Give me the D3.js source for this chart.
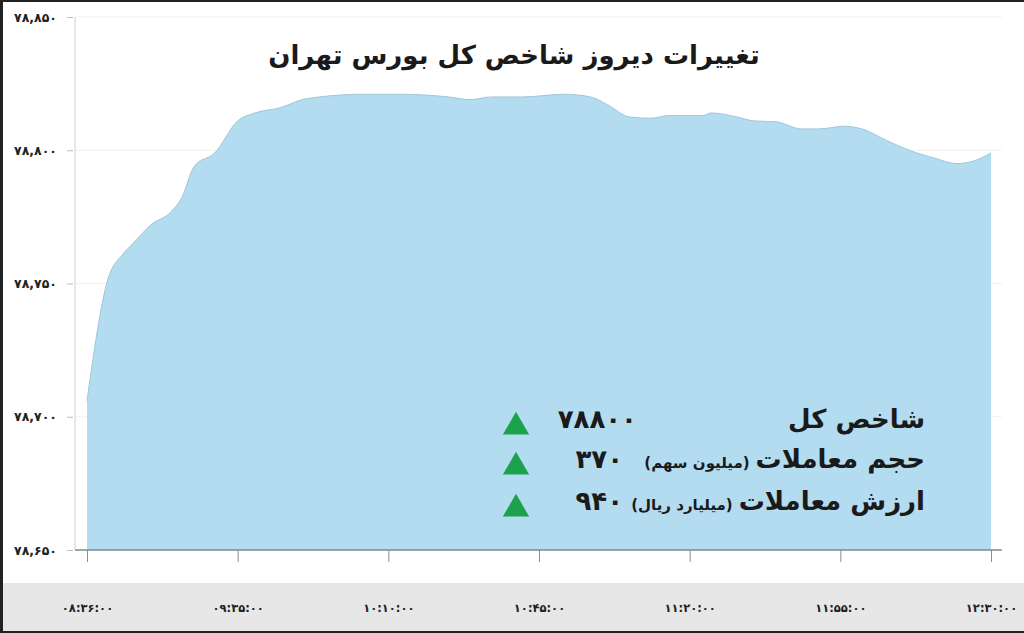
<!DOCTYPE html>
<html>
<head>
<meta charset="utf-8">
<script src="https://cdn.jsdelivr.net/npm/d3@7"></script>
<style>
  html, body { margin: 0; padding: 0; background: #fff; }
  svg { display: block; }
  text { font-family: "DejaVu Sans", "Noto Sans", sans-serif; }
</style>
</head>
<body>
<svg id="chart" width="1024" height="633"></svg>
<script>
// ---------- data ----------
const times = ["08:36","08:44","08:50","08:54","09:01","09:09","09:13","09:18","09:26","09:35",
  "09:39","09:45","09:50","09:54","10:04","10:13","10:24","10:29","10:34","10:41",
  "10:51","10:57","11:01","11:06","11:11","11:15","11:23","11:25","11:31","11:35",
  "11:40","11:46","11:50","11:56","12:00","12:06","12:11","12:17","12:22","12:26","12:30"];
const values = [78706,78751,78761,78765,78772,78777,78782,78794,78799,78811,
  78814,78816,78819,78820,78821,78821,78820,78819,78820,78820,
  78821,78820,78817,78812.5,78812,78813,78813,78814,78812.5,78811,
  78810.7,78808,78808,78809,78808,78803.5,78800,78797,78795,78796,78799];
const xTickTimes = ["08:36","09:35","10:10","10:45","11:20","11:55","12:30"];
const yTickValues = [78650,78700,78750,78800,78850];
const title = "تغییرات دیروز شاخص کل بورس تهران";
const legendLabels = ["شاخص کل","حجم معاملات","ارزش معاملات"];
const legendUnits = ["","(میلیون سهم)","(میلیارد ریال)"];
const legendValues = [78800,370,940];

// ---------- helpers ----------
const faDigits = "۰۱۲۳۴۵۶۷۸۹";
const toFa = s => String(s).replace(/[0-9]/g, d => faDigits[+d]);
const toMin = t => { const [h,m] = t.split(":").map(Number); return h*60+m; };

const svg = d3.select("#chart");
const W = 1024, H = 633;
const plot = {left: 75, right: 1002, top: 17, bottom: 550, x0: 87, x1: 991};

// background band for x labels
svg.append("rect").attr("x",0).attr("y",583).attr("width",W).attr("height",H-583).attr("fill","#e7e7e7");

// scales (piecewise linear across the equally spaced tick times)
const tickMins = xTickTimes.map(toMin);
const x = d3.scaleLinear()
  .domain(tickMins)
  .range(tickMins.map((d,i) => plot.x0 + i*(plot.x1-plot.x0)/(tickMins.length-1)));
const y = d3.scaleLinear().domain([78650,78850]).range([plot.bottom, plot.top]);

// grid
svg.append("g").selectAll("line").data(yTickValues).join("line")
  .attr("x1",plot.left).attr("x2",plot.right)
  .attr("y1",d=>y(d)).attr("y2",d=>y(d))
  .attr("stroke","#eef1f3").attr("stroke-width",1);

// area
const data = times.map((t,i)=>({t:toMin(t), v:values[i]}));
const area = d3.area().x(d=>x(d.t)).y0(y(78650)).y1(d=>y(d.v)).curve(d3.curveMonotoneX);
const line = d3.line().x(d=>x(d.t)).y(d=>y(d.v)).curve(d3.curveMonotoneX);
svg.append("path").datum(data).attr("d",area).attr("fill","#b4dcf0");
svg.append("path").datum(data).attr("d",line).attr("fill","none").attr("stroke","#9fc7da").attr("stroke-width",1);

// y axis
const yAxis = d3.axisLeft(y).tickValues(yTickValues).tickSize(6).tickPadding(10)
  .tickFormat(d => toFa(d3.format(",")(d)));
const gy = svg.append("g").attr("transform",`translate(${plot.left-2},0)`).call(yAxis);
gy.select(".domain").remove();
gy.selectAll(".tick line").attr("stroke","#bbb");
gy.selectAll(".tick text").attr("fill","#222").attr("font-size",12.5).attr("font-weight","bold");
svg.append("line").attr("x1",plot.left).attr("x2",plot.left).attr("y1",plot.top).attr("y2",plot.bottom)
  .attr("stroke","#d0d0d0").attr("stroke-width",1);

// x axis
const xAxis = d3.axisBottom(x).tickValues(tickMins).tickSize(12).tickPadding(42)
  .tickFormat(d => toFa(xTickTimes[tickMins.indexOf(d)] + ":00"));
const gx = svg.append("g").attr("transform",`translate(0,${plot.bottom})`).call(xAxis);
gx.select(".domain").remove();
gx.selectAll(".tick line").attr("stroke","#8a8f93");
gx.selectAll(".tick text").attr("fill","#222").attr("font-size",11.5).attr("font-weight","bold");
svg.append("line").attr("x1",plot.left).attr("x2",plot.right).attr("y1",plot.bottom).attr("y2",plot.bottom)
  .attr("stroke","#7f8b92").attr("stroke-width",1.5);

// title
svg.append("text").attr("x",514).attr("y",64).attr("text-anchor","middle")
  .attr("font-size",26).attr("font-weight","bold").attr("fill","#1a1a1a").text(title);

// legend
const rowY = [428, 468, 510];
legendLabels.forEach((lab,i)=>{
  const t = svg.append("text").attr("x",925).attr("y",rowY[i]).attr("text-anchor","end")
    .attr("font-size",26).attr("font-weight","bold").attr("fill","#1a1a1a").text(lab);
  if (legendUnits[i]) {
    const w = t.node().getComputedTextLength();
    svg.append("text").attr("x",925-w-6).attr("y",rowY[i]).attr("text-anchor","end")
      .attr("font-size",15).attr("font-weight","bold").attr("fill","#1a1a1a").text(legendUnits[i]);
  }
  svg.append("text").attr("x",i===0?637:623).attr("y",rowY[i]).attr("text-anchor","end")
    .attr("font-size",26).attr("font-weight","bold").attr("letter-spacing",3).attr("fill","#1a1a1a")
    .text(toFa(legendValues[i]));
  svg.append("path").attr("d",d3.symbol(d3.symbolTriangle, 300)())
    .attr("transform",`translate(516,${rowY[i]-1})`).attr("fill","#1ca24c");
});

// frame
svg.append("line").attr("x1",0).attr("x2",W).attr("y1",1).attr("y2",1).attr("stroke","#222").attr("stroke-width",2);
svg.append("line").attr("x1",1.5).attr("x2",1.5).attr("y1",0).attr("y2",H).attr("stroke","#222").attr("stroke-width",3);
svg.append("line").attr("x1",0).attr("x2",W).attr("y1",H-1).attr("y2",H-1).attr("stroke","#222").attr("stroke-width",2);
</script>
</body>
</html>
